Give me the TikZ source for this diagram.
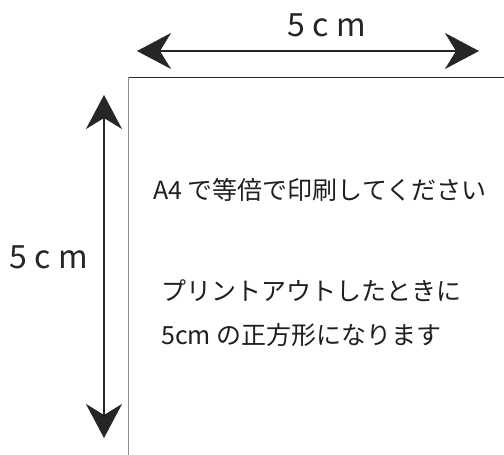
\documentclass[tikz,border=0pt]{standalone}
\usepackage{fontspec}
\setmainfont{Noto Sans CJK JP}
\usetikzlibrary{arrows.meta}
\tikzset{
  dimtip/.tip={Stealth[length=34pt,width=36pt,inset=11pt]},
  dimarrow/.style={line width=2pt, color=black!85, dimtip-dimtip},
  dimlabel/.style={font=\fontsize{32}{38}\selectfont, text=black!85, inner sep=0pt},
  msg/.style={font=\fontsize{25}{30}\selectfont, text=black!88, inner sep=0pt, anchor=base west},
}
\begin{document}
\begin{tikzpicture}[x=1pt,y=-1pt]
\useasboundingbox (0,0) rectangle (504,455);
% square corner
\coordinate (sqbl) at (128.5,456);
\coordinate (sqtl) at (128.5,77);
\coordinate (sqtr) at (505,77);
\draw[line width=1pt, black!45] (sqbl) -- (sqtl);
\draw[line width=1pt, black!85] (sqtl) -- (sqtr);
% horizontal dimension
\coordinate (hl) at (137,51);
\coordinate (hr) at (479,51);
\draw[dimarrow] (hl) -- (hr);
\node[dimlabel, anchor=base] (htext) at (327,36) {5 c m};
% vertical dimension
\coordinate (vt) at (104,95);
\coordinate (vb) at (104,438);
\draw[dimarrow] (vt) -- (vb);
\node[dimlabel, anchor=base] (vtext) at (49,268) {5 c m};
% messages
\node[msg] (m1) at (153,199) {A4 で等倍で印刷してください};
\node[msg] (m2) at (161,300) {プリントアウトしたときに};
\node[msg] (m3) at (161,344) {5cm の正方形になります};
\end{tikzpicture}
\end{document}
